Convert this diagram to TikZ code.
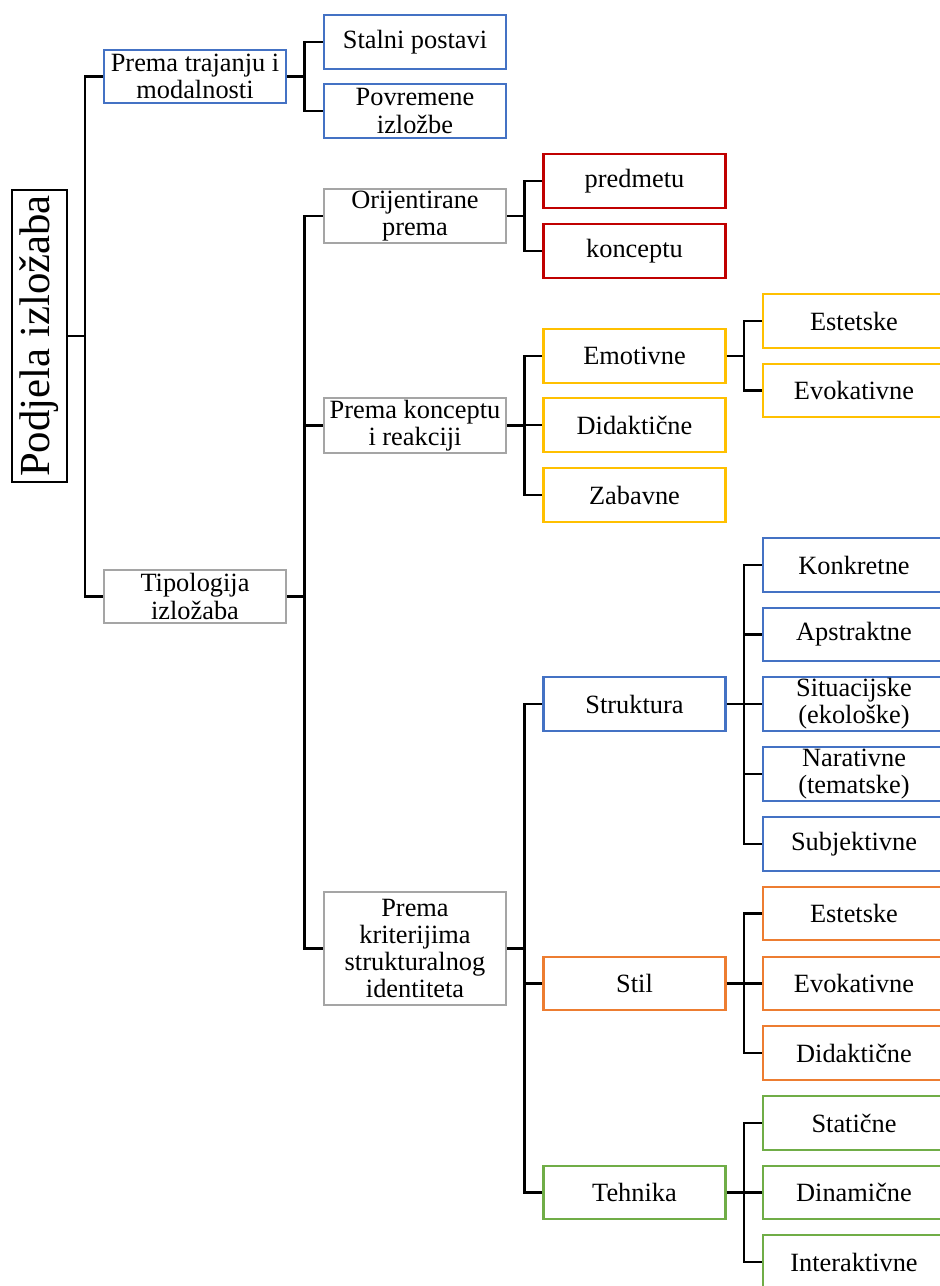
\documentclass[tikz,border=0pt]{standalone}
\usepackage{fontspec}
\setmainfont{Liberation Serif}

\definecolor{boxblue}{RGB}{68,114,196}
\definecolor{boxgray}{RGB}{165,165,165}
\definecolor{boxred}{RGB}{192,0,0}
\definecolor{boxyellow}{RGB}{255,192,0}
\definecolor{boxorange}{RGB}{237,125,49}
\definecolor{boxgreen}{RGB}{112,173,71}

\tikzset{
  box/.style={draw=#1, line width=1pt, minimum width=2.91cm, minimum height=0.86cm,
    inner sep=0pt, align=center, font=\fontsize{12}{12.4}\selectfont},
  conn/.style={line width=1.2pt}
}

\begin{document}
\begin{tikzpicture}
  \useasboundingbox (0,0) rectangle (15.024,-20.576);
  % root
  \node[draw, line width=1pt, minimum width=0.88cm, minimum height=4.67cm, inner sep=0pt]
    (root) at(0.632,-5.376){\fontsize{19.5}{22}\selectfont\rotatebox{90}{Podjela izložaba}};
  % level 1
  \node[box=boxblue] (trajanje) at(3.12,-1.224){Prema trajanju i\\modalnosti};
  \node[box=boxgray] (tipologija) at(3.12,-9.544){Tipologija\\izložaba};
  % level 2
  \node[box=boxblue] (stalni) at(6.64,-0.672){Stalni postavi};
  \node[box=boxblue] (povremene) at(6.64,-1.776){Povremene\\izložbe};
  \node[box=boxgray] (orijentirane) at(6.64,-3.456){Orijentirane\\prema};
  \node[box=boxgray, minimum height=0.88cm] (reakcija) at(6.64,-6.808){Prema konceptu\\i reakciji};
  \node[box=boxgray, minimum height=1.8cm] (kriteriji) at(6.64,-15.176){Prema\\kriterijima\\strukturalnog\\identiteta};
  % level 3
  \node[box=boxred] (predmetu) at(10.152,-2.896){predmetu};
  \node[box=boxred] (konceptu) at(10.152,-4.016){konceptu};
  \node[box=boxyellow] (emotivne) at(10.152,-5.696){Emotivne};
  \node[box=boxyellow] (didakticne) at(10.152,-6.8){Didaktične};
  \node[box=boxyellow] (zabavne) at(10.152,-7.92){Zabavne};
  \node[box=boxblue] (struktura) at(10.152,-11.264){Struktura};
  \node[box=boxorange] (stil) at(10.152,-15.736){Stil};
  \node[box=boxgreen] (tehnika) at(10.152,-19.08){Tehnika};
  % level 4
  \node[box=boxyellow] (estetske1) at(13.664,-5.136){Estetske};
  \node[box=boxyellow] (evokativne1) at(13.664,-6.248){Evokativne};
  \node[box=boxblue] (konkretne) at(13.664,-9.04){Konkretne};
  \node[box=boxblue] (apstraktne) at(13.664,-10.152){Apstraktne};
  \node[box=boxblue] (situacijske) at(13.664,-11.264){Situacijske\\(ekološke)};
  \node[box=boxblue] (narativne) at(13.664,-12.384){Narativne\\(tematske)};
  \node[box=boxblue] (subjektivne) at(13.664,-13.504){Subjektivne};
  \node[box=boxorange] (estetske2) at(13.664,-14.616){Estetske};
  \node[box=boxorange] (evokativne2) at(13.664,-15.736){Evokativne};
  \node[box=boxorange] (didakticne2) at(13.664,-16.848){Didaktične};
  \node[box=boxgreen] (staticne) at(13.664,-17.968){Statične};
  \node[box=boxgreen] (dinamicne) at(13.664,-19.08){Dinamične};
  \node[box=boxgreen] (interaktivne) at(13.664,-20.192){Interaktivne};
  % connectors
  \draw[conn] (root.east) -- ++(0.27,0) coordinate (j0) |- (trajanje.west);
  \draw[conn] (j0) |- (tipologija.west);
  \draw[conn] (trajanje.east) -- ++(0.28,0) coordinate (j1) |- (stalni.west);
  \draw[conn] (j1) |- (povremene.west);
  \draw[conn] (tipologija.east) -- ++(0.28,0) coordinate (j2) |- (orijentirane.west);
  \draw[conn] (j2) |- (reakcija.west);
  \draw[conn] (j2) |- (kriteriji.west);
  \draw[conn] (orijentirane.east) -- ++(0.28,0) coordinate (j3) |- (predmetu.west);
  \draw[conn] (j3) |- (konceptu.west);
  \draw[conn] (reakcija.east) -- ++(0.28,0) coordinate (j4) |- (emotivne.west);
  \draw[conn] (j4) |- (didakticne.west);
  \draw[conn] (j4) |- (zabavne.west);
  \draw[conn] (emotivne.east) -- ++(0.28,0) coordinate (j5) |- (estetske1.west);
  \draw[conn] (j5) |- (evokativne1.west);
  \draw[conn] (kriteriji.east) -- ++(0.28,0) coordinate (j6) |- (struktura.west);
  \draw[conn] (j6) |- (stil.west);
  \draw[conn] (j6) |- (tehnika.west);
  \draw[conn] (struktura.east) -- ++(0.28,0) coordinate (j7) |- (konkretne.west);
  \draw[conn] (j7) |- (apstraktne.west);
  \draw[conn] (j7) |- (situacijske.west);
  \draw[conn] (j7) |- (narativne.west);
  \draw[conn] (j7) |- (subjektivne.west);
  \draw[conn] (stil.east) -- ++(0.28,0) coordinate (j8) |- (estetske2.west);
  \draw[conn] (j8) |- (evokativne2.west);
  \draw[conn] (j8) |- (didakticne2.west);
  \draw[conn] (tehnika.east) -- ++(0.28,0) coordinate (j9) |- (staticne.west);
  \draw[conn] (j9) |- (dinamicne.west);
  \draw[conn] (j9) |- (interaktivne.west);
\end{tikzpicture}
\end{document}
